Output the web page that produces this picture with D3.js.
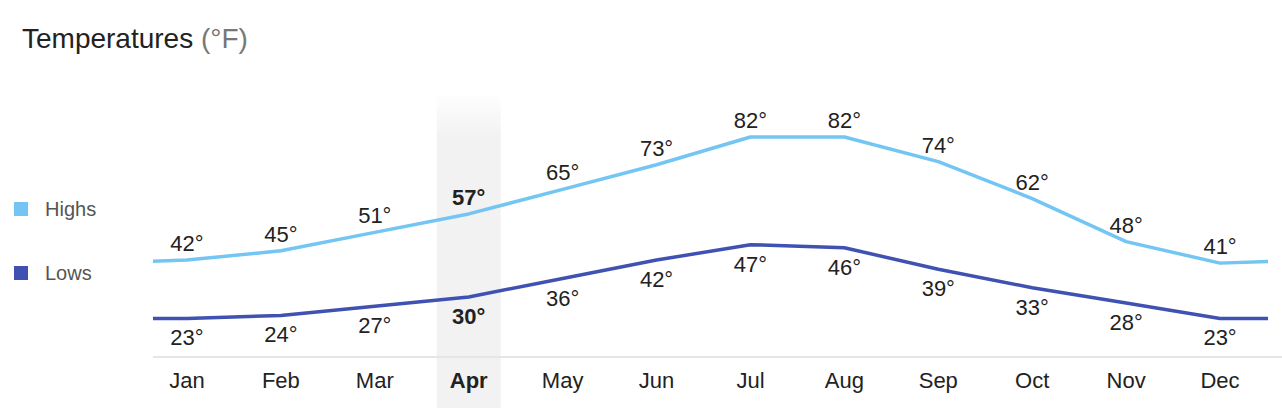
<!DOCTYPE html>
<html>
<head>
<meta charset="utf-8">
<script src="https://cdn.jsdelivr.net/npm/d3@7"></script>
<style>
  body { margin: 0; background: #fff; }
  text { font-family: "Liberation Sans", Arial, Helvetica, sans-serif; }
</style>
</head>
<body>
<div id="chart"></div>
<script>
// ---------------- DATA ----------------
var months = ["Jan", "Feb", "Mar", "Apr", "May", "Jun", "Jul", "Aug", "Sep", "Oct", "Nov", "Dec"];
var highs = [42, 45, 51, 57, 65, 73, 82, 82, 74, 62, 48, 41];
var lows = [23, 24, 27, 30, 36, 42, 47, 46, 39, 33, 28, 23];
var selectedMonth = "Apr";
var seriesNames = ["Highs", "Lows"];
var seriesColors = ["#73c6f3", "#3f51b1"];

// ---------------- CANVAS ----------------
var svgWidth = 1282, svgHeight = 408;
var plotLeft = 153, plotRight = 1268;

var svg = d3.select("#chart").append("svg")
  .attr("width", svgWidth)
  .attr("height", svgHeight);

// ---------------- SCALES ----------------
var x = d3.scaleBand().domain(months).range([140, 1267]).padding(0);
var step = x.step();
var cx = function(m) { return x(m) + x.bandwidth() / 2; };

// degrees -> pixels (0 at bottom)
var y = d3.scaleLinear().domain([0, 100]).range([389.2, 81.7]);

// ---------------- TITLE ----------------
var title = svg.append("text")
  .attr("x", 22).attr("y", 48)
  .style("font-size", "28px")
  .style("fill", "#222");
title.append("tspan").text("Temperatures ");
title.append("tspan").style("fill", "#777").text("(°F)");

// ---------------- LEGEND ----------------
var legendY = [216, 280];
seriesNames.forEach(function(name, i) {
  svg.append("rect")
    .attr("x", 14).attr("y", legendY[i] - 14)
    .attr("width", 14).attr("height", 14)
    .attr("fill", seriesColors[i]);
  svg.append("text")
    .attr("x", 45).attr("y", legendY[i])
    .style("font-size", "20px")
    .style("fill", "#555")
    .text(name);
});

// ---------------- HIGHLIGHT BAND ----------------
var defs = svg.append("defs");
var grad = defs.append("linearGradient")
  .attr("id", "bandGrad")
  .attr("x1", 0).attr("y1", 0).attr("x2", 0).attr("y2", 1);
grad.append("stop").attr("offset", "0%").attr("stop-color", "#f2f2f2").attr("stop-opacity", 0);
grad.append("stop").attr("offset", "14%").attr("stop-color", "#f2f2f2").attr("stop-opacity", 1);
grad.append("stop").attr("offset", "100%").attr("stop-color", "#f2f2f2").attr("stop-opacity", 1);

svg.append("rect")
  .attr("x", cx(selectedMonth) - 32)
  .attr("y", 92)
  .attr("width", 64)
  .attr("height", svgHeight - 92)
  .attr("fill", "url(#bandGrad)");

// ---------------- BASELINE ----------------
svg.append("line")
  .attr("x1", plotLeft).attr("x2", svgWidth)
  .attr("y1", 357).attr("y2", 357)
  .attr("stroke", "#e6e6e6")
  .attr("stroke-width", 2);

// ---------------- LINES ----------------
defs.append("clipPath").attr("id", "plotClip")
  .append("rect")
  .attr("x", plotLeft).attr("y", 0)
  .attr("width", plotRight - plotLeft).attr("height", svgHeight);

var line = d3.line()
  .x(function(d) { return d.x; })
  .y(function(d) { return y(d.v); });

// wrap around the year so the line runs past the first and last months
var wrapped = function(values) {
  var pts = values.map(function(v, i) { return {x: cx(months[i]), v: v}; });
  pts.unshift({x: cx(months[0]) - step, v: values[values.length - 1]});
  pts.push({x: cx(months[months.length - 1]) + step, v: values[0]});
  return pts;
};

[highs, lows].forEach(function(values, i) {
  svg.append("path")
    .datum(wrapped(values))
    .attr("clip-path", "url(#plotClip)")
    .attr("fill", "none")
    .attr("stroke", seriesColors[i])
    .attr("stroke-width", 3.5)
    .attr("stroke-linejoin", "round")
    .attr("d", line);
});

// ---------------- VALUE LABELS ----------------
svg.selectAll(".highLabel")
  .data(highs)
  .enter().append("text")
  .attr("class", "highLabel")
  .attr("x", function(d, i) { return cx(months[i]); })
  .attr("y", function(d) { return y(d) - 9; })
  .attr("text-anchor", "middle")
  .style("font-size", "22px")
  .style("fill", "#222")
  .style("font-weight", function(d, i) { return months[i] === selectedMonth ? "bold" : "normal"; })
  .text(function(d) { return d + "°"; });

svg.selectAll(".lowLabel")
  .data(lows)
  .enter().append("text")
  .attr("class", "lowLabel")
  .attr("x", function(d, i) { return cx(months[i]); })
  .attr("y", function(d) { return y(d) + 27; })
  .attr("text-anchor", "middle")
  .style("font-size", "22px")
  .style("fill", "#222")
  .style("font-weight", function(d, i) { return months[i] === selectedMonth ? "bold" : "normal"; })
  .text(function(d) { return d + "°"; });

// ---------------- MONTH AXIS ----------------
var xAxis = d3.axisBottom(x).tickSize(0).tickPadding(0);
var axisG = svg.append("g")
  .attr("transform", "translate(0, 372)")
  .call(xAxis);
axisG.select(".domain").remove();
axisG.selectAll("text")
  .attr("dy", "0.71em")
  .style("font-family", "Liberation Sans, Arial, Helvetica, sans-serif")
  .style("font-size", "22px")
  .style("fill", "#222")
  .style("font-weight", function(d) { return d === selectedMonth ? "bold" : "normal"; });
</script>
</body>
</html>
